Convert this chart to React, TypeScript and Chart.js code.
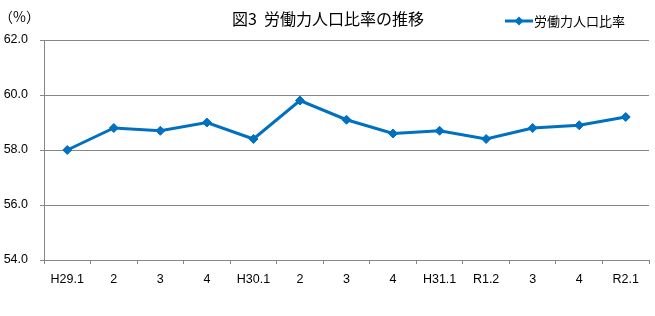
import React, { useEffect, useRef } from "react";
import { Chart, registerables } from "chart.js";

Chart.register(...registerables);

const categories = ["H29.1", "2", "3", "4", "H30.1", "2", "3", "4", "H31.1", "R1.2", "3", "4", "R2.1"];
const laborRatio = [58.0, 58.8, 58.7, 59.0, 58.4, 59.8, 59.1, 58.6, 58.7, 58.4, 58.8, 58.9, 59.2];
const yTicks = [54.0, 56.0, 58.0, 60.0, 62.0];
const titleText = "図3  労働力人口比率の推移";
const seriesName = "労働力人口比率";
const unitText = "（%）";

const LINE_COLOR = "#0070C0";
const GRID_COLOR = "#868686";
const JP_FONT = '"Noto Sans CJK JP", sans-serif';
const NUM_FONT = '"Liberation Sans", Arial, sans-serif';

const overlayPlugin = {
  id: "overlay",
  afterDraw(chart: any) {
    const ctx = chart.ctx;
    ctx.save();
    ctx.fillStyle = "#000";
    ctx.textBaseline = "middle";
    // title
    ctx.font = `16px ${JP_FONT}`;
    ctx.textAlign = "center";
    ctx.fillText(titleText, 328, 19);
    // unit
    ctx.font = `14px ${JP_FONT}`;
    ctx.textAlign = "left";
    ctx.fillText(unitText, -1, 17);
    // legend
    const ly = 21;
    ctx.strokeStyle = LINE_COLOR;
    ctx.lineWidth = 3;
    ctx.beginPath();
    ctx.moveTo(505, ly);
    ctx.lineTo(533, ly);
    ctx.stroke();
    ctx.fillStyle = LINE_COLOR;
    ctx.beginPath();
    ctx.moveTo(519, ly - 4.5);
    ctx.lineTo(523.5, ly);
    ctx.lineTo(519, ly + 4.5);
    ctx.lineTo(514.5, ly);
    ctx.closePath();
    ctx.fill();
    ctx.fillStyle = "#000";
    ctx.font = `13px ${JP_FONT}`;
    ctx.fillText(seriesName, 534, ly);
    ctx.restore();
  },
};

const bgPlugin = {
  id: "bg",
  beforeDraw(chart: any) {
    const ctx = chart.ctx;
    ctx.save();
    ctx.fillStyle = "#fff";
    ctx.fillRect(0, 0, chart.width, chart.height);
    ctx.restore();
  },
};

export default function App() {
  const ref = useRef<HTMLCanvasElement | null>(null);
  useEffect(() => {
    if (!ref.current) return;
    const chart = new Chart(ref.current, {
      type: "line",
      data: {
        labels: categories,
        datasets: [
          {
            label: seriesName,
            data: laborRatio,
            borderColor: LINE_COLOR,
            backgroundColor: LINE_COLOR,
            borderWidth: 3,
            pointStyle: "rectRot",
            pointRadius: 4.5,
            pointBorderWidth: 1,
            tension: 0,
          },
        ],
      },
      options: {
        responsive: false,
        animation: false,
        layout: { padding: { top: 40, right: 6, bottom: 0, left: 0 } },
        plugins: {
          legend: { display: false },
          title: { display: false },
          tooltip: { enabled: false },
        },
        scales: {
          x: {
            offset: true,
            grid: {
              offset: true,
              drawOnChartArea: false,
              drawTicks: true,
              tickLength: 4,
              color: GRID_COLOR,
            },
            border: { color: GRID_COLOR, width: 1 },
            ticks: {
              color: "#000",
              padding: 8,
              maxRotation: 0,
              autoSkip: false,
              font: { family: NUM_FONT, size: 12.5 },
            },
            afterFit(scale: any) {
              scale.height = 56;
            },
          },
          y: {
            min: 54,
            max: 62,
            afterBuildTicks(scale: any) {
              scale.ticks = yTicks.map((v) => ({ value: v }));
            },
            grid: {
              color: GRID_COLOR,
              drawTicks: true,
              tickLength: 4,
              lineWidth: 1,
            },
            border: { color: GRID_COLOR, width: 1 },
            ticks: {
              color: "#000",
              padding: 12,
              font: { family: NUM_FONT, size: 12.5 },
              callback: (v: any) => Number(v).toFixed(1),
            },
            afterFit(scale: any) {
              scale.width = 44;
            },
          },
        },
      },
      plugins: [bgPlugin, overlayPlugin],
    });
    return () => chart.destroy();
  }, []);
  return (
    <div style={{ position: "fixed", left: 0, top: 0, width: 655, height: 316, background: "#fff" }}>
      <canvas ref={ref} width={655} height={316} />
    </div>
  );
}
